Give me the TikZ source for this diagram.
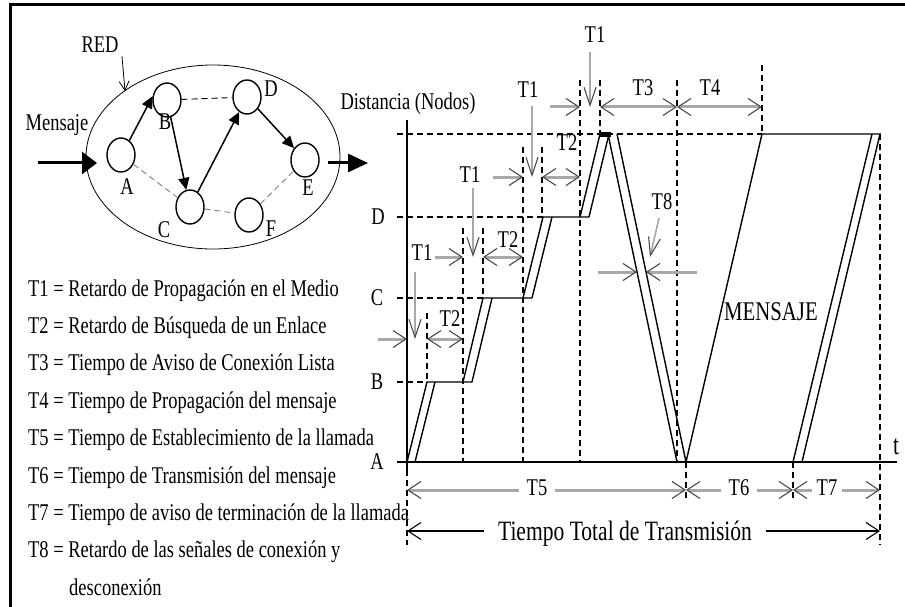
\documentclass[tikz,border=0pt]{standalone}
\usepackage{fontspec}
\setmainfont{Liberation Serif}[FakeStretch=0.77]
\usetikzlibrary{shapes.geometric, arrows.meta}
\definecolor{grisFlecha}{HTML}{A8A8A8}
\definecolor{grisPunta}{HTML}{4A4A4A}

\begin{document}
\begin{tikzpicture}[x=1pt, y=-1pt,
        font=\fontsize{24}{26}\selectfont,
        chev/.tip={Straight Barb[length=13pt, width=17pt, line width=1.1pt, color=grisPunta]},
        chevv/.tip={Straight Barb[length=18pt, width=12pt, line width=1.1pt, color=grisPunta]},
        chevk/.tip={Straight Barb[length=13pt, width=17pt, line width=1.1pt]},
        sig/.style={line width=1.4pt},
        dsh/.style={line width=1.1pt, dash pattern=on 6pt off 4pt},
        nd/.style={draw, ellipse, line width=1.4pt, minimum width=28pt, minimum height=34pt, inner sep=0pt},
        lnk/.style={line width=1.5pt, -{Triangle[length=12pt, width=11pt]}},
        lnkd/.style={line width=0.9pt, dash pattern=on 6pt off 4pt},
        gar/.style={line width=3pt, grisFlecha, -chev},
        gard/.style={line width=3pt, grisFlecha, chev-chev},
        garv/.style={line width=1.6pt, grisFlecha, -chevv},
        tot/.style={line width=1.2pt, chevk-chevk},
        tl/.style={fill=white, inner xsep=8pt, inner ysep=1pt},
        ley/.style={anchor=base west, inner sep=0pt}
    ]
    \useasboundingbox (0,0) rectangle (905,607);
    \draw[line width=3pt] (10,607) -- (10,5) -- (905,5);

    % red
    \node[draw, ellipse, line width=0.8pt, minimum width=254pt, minimum height=184pt] (red) at (213,157) {};
    \node[nd] (nA) at (121,155) {};
    \node[nd] (nB) at (167,100) {};
    \node[nd] (nC) at (190,207) {};
    \node[nd] (nD) at (247,97) {};
    \node[nd] (nE) at (305,160) {};
    \node[nd] (nF) at (249,215) {};
    \node (lA) at (127,187) {A};
    \node (lB) at (165,122) {B};
    \node (lC) at (164,230) {C};
    \node (lD) at (271,89) {D};
    \node (lE) at (308,188) {E};
    \node (lF) at (271,229) {F};
    \draw[lnk] (nA.60) -- (nB.165);
    \draw[lnk] (nB) -- (nC);
    \draw[lnk] (nC) -- (nD);
    \draw[lnk] (nD) -- (nE);
    \draw[lnkd] (nB) -- (nD);
    \draw[lnkd, gray] (nA) -- (nC);
    \draw[lnkd, gray] (nC) -- (nF);
    \draw[lnkd, gray] (nF) -- (nE);
    \node (lRed) at (100,45) {RED};
    \coordinate (redPto) at (125,91);
    \draw[line width=0.8pt, -{Straight Barb[length=9pt, width=10pt]}] (lRed.south east) -- (redPto);
    \node (lMsj) at (57,125) {Mensaje};
    \coordinate (msgIni) at (38,163);
    \coordinate (msgFin) at (97,163);
    \draw[line width=3pt, -{Triangle[length=15pt, width=22pt]}] (msgIni) -- (msgFin);
    \coordinate (outIni) at (328,163);
    \coordinate (outFin) at (368,163);
    \draw[line width=3pt, -{Triangle[length=20pt, width=18pt]}] (outIni) -- (outFin);

    % leyenda
    \node[ley] (t1) at (28,296) {T1 = Retardo de Propagación en el Medio};
    \node[ley] (t2) at (28,333.4) {T2 = Retardo de Búsqueda de un Enlace};
    \node[ley] (t3) at (28,370.8) {T3 = Tiempo de Aviso de Conexión Lista};
    \node[ley] (t4) at (28,408.2) {T4 = Tiempo de Propagación del mensaje};
    \node[ley] (t5) at (28,445.6) {T5 = Tiempo de Establecimiento de la llamada};
    \node[ley] (t6) at (28,483) {T6 = Tiempo de Transmisión del mensaje};
    \node[ley] (t7) at (28,520.4) {T7 = Tiempo de aviso de terminación de la llamada};
    \node[ley] (t8) at (28,557.8) {T8 = Retardo de las señales de conexión y};
    \node[ley] (t8b) at (69,595.2) {desconexión};

    % ejes
    \draw[sig] (407,120) -- (407,470);
    \draw[dsh] (407,470) -- (407,545);
    \draw[sig] (397,462) -- (897,462);
    \node (yLbl) at (408,104) {Distancia (Nodos)};
    \node[font=\fontsize{28}{30}\selectfont] (tLbl) at (896,447) {t};
    \node (eA) at (377,462) {A};
    \node (eB) at (377,382) {B};
    \node (eC) at (377,298) {C};
    \node (eD) at (378,217) {D};
    \draw[dsh] (397,382) -- (427,382);
    \draw[dsh] (397,298) -- (483,298);
    \draw[dsh] (397,217) -- (543,217);
    \draw[dsh] (397,134) -- (762,134);

    % verticales
    \draw[dsh] (427,313) -- (427,382);
    \draw[dsh] (463,228) -- (463,462);
    \draw[dsh] (483,228) -- (483,298);
    \draw[dsh] (523,147) -- (523,462);
    \draw[dsh] (542,147) -- (542,217);
    \draw[dsh] (580,80) -- (580,462);
    \draw[dsh] (600,80) -- (600,134);
    \draw[dsh] (677,80) -- (677,462);
    \draw[dsh] (762,65) -- (762,134);
    \draw[dsh] (880,134) -- (880,545);
    \draw[dsh] (686,462) -- (686,500);
    \draw[dsh] (793,462) -- (793,500);

    % senal
    \draw[sig] (407,462) -- (427,382) -- (472,382);
    \draw[sig] (415,462) -- (435,382);
    \draw[sig] (463,382) -- (483,298) -- (532,298);
    \draw[sig] (472,382) -- (492,298);
    \draw[sig] (523,298) -- (543,217) -- (589,217);
    \draw[sig] (532,298) -- (552,217);
    \draw[sig] (580,217) -- (600,134);
    \draw[sig] (589,217) -- (609,134);
    \fill (600,132) rectangle (611,137);
    \draw[sig] (608,134) -- (677,462);
    \draw[sig] (617,134) -- (686,462) -- (762,134) -- (880,134) -- (802,462);
    \draw[sig] (872,134) -- (793,462);
    \node[font=\fontsize{27}{29}\selectfont] (msjLbl) at (771,312) {MENSAJE};

    % retardos
    \draw[gar] (378,339) -- (407,339);
    \draw[garv] (415,272) -- (415,339);
    \draw[gard] (427,339) -- (463,339);
    \node (a1) at (422,253) {T1};
    \node (a2) at (450,319) {T2};
    \draw[gar] (435,257) -- (463,257);
    \draw[garv] (473,188) -- (473,257);
    \draw[gard] (483,257) -- (523,257);
    \node (b1) at (470,175) {T1};
    \node (b2) at (508,240) {T2};
    \draw[gar] (493,177) -- (523,177);
    \draw[garv] (532,106) -- (532,177);
    \draw[gard] (542,177) -- (580,177);
    \node (c1) at (528,90) {T1};
    \node (c2) at (567,143) {T2};
    \draw[gar] (550,107) -- (580,107);
    \draw[garv] (590,52) -- (590,107);
    \draw[gard] (600,107) -- (677,107);
    \draw[gard] (677,107) -- (762,107);
    \node (d1) at (595,35) {T1};
    \node (d3) at (643,88) {T3};
    \node (d4) at (710,88) {T4};
    \draw[gar] (598,272) -- (637,272);
    \draw[gar] (697,272) -- (646,272);
    \draw[garv] (659,218) -- (650,257);
    \node (t8l) at (662,202) {T8};

    % tiempos
    \draw[gard] (407,490) -- (686,490);
    \draw[gard] (686,490) -- (793,490);
    \draw[gard] (793,490) -- (880,490);
    \node[tl] (t5l) at (537,488) {T5};
    \node[tl] (t6l) at (739,488) {T6};
    \node[tl, inner xsep=5pt] (t7l) at (827,488) {T7};
    \draw[tot] (407,531) -- (880,531);
    \node[fill=white, inner xsep=14pt, anchor=base, font=\fontsize{28}{30}\selectfont] (totLbl) at (625,540) {Tiempo Total de Transmisión};
\end{tikzpicture}
\end{document}
